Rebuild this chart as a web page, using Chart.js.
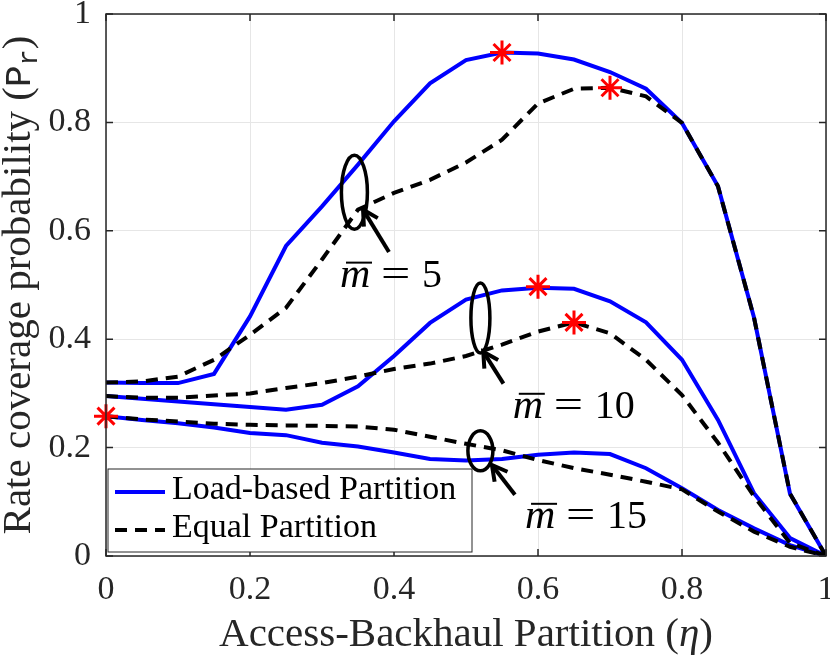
<!DOCTYPE html>
<html>
<head>
<meta charset="utf-8">
<script src="https://cdn.jsdelivr.net/npm/chart.js@4.4.0/dist/chart.umd.min.js"></script>
<style>
  body { margin: 0; background: #fff; }
  .box { width: 830px; height: 656px; }
</style>
</head>
<body>
<div class="box"><canvas id="rc" width="830" height="656"></canvas></div>
<script>
// partition values (x axis)
const eta = [0, 0.05, 0.1, 0.15, 0.2, 0.25, 0.3, 0.35, 0.4, 0.45, 0.5,
             0.55, 0.6, 0.65, 0.7, 0.75, 0.8, 0.85, 0.9, 0.95, 1];

// m = 5
const load5  = [0.320, 0.319, 0.319, 0.336, 0.442, 0.572, 0.645, 0.722, 0.802, 0.872, 0.915,
                0.929, 0.927, 0.916, 0.893, 0.862, 0.799, 0.682, 0.440, 0.115, 0];
const equal5 = [0.320, 0.322, 0.331, 0.362, 0.408, 0.458, 0.547, 0.639, 0.670, 0.694, 0.726,
                0.768, 0.835, 0.862, 0.864, 0.848, 0.799, 0.682, 0.440, 0.115, 0];
// m = 10
const load10  = [0.295, 0.290, 0.285, 0.280, 0.275, 0.270, 0.279, 0.313, 0.369, 0.430, 0.473,
                 0.490, 0.495, 0.493, 0.470, 0.431, 0.362, 0.251, 0.116, 0.033, 0];
const equal10 = [0.295, 0.292, 0.292, 0.296, 0.300, 0.310, 0.319, 0.331, 0.345, 0.355, 0.369,
                 0.390, 0.414, 0.431, 0.411, 0.362, 0.297, 0.209, 0.110, 0.024, 0];
// m = 15
const load15  = [0.258, 0.251, 0.245, 0.237, 0.227, 0.223, 0.209, 0.202, 0.191, 0.179, 0.176,
                 0.179, 0.187, 0.191, 0.188, 0.162, 0.125, 0.085, 0.051, 0.020, 0];
const equal15 = [0.258, 0.252, 0.248, 0.244, 0.242, 0.241, 0.240, 0.239, 0.233, 0.220, 0.207,
                 0.195, 0.177, 0.162, 0.150, 0.137, 0.123, 0.082, 0.045, 0.017, 0];

// optimum points (red asterisks)
const bestX = [0.55, 0.7, 0.6, 0.65, 0];
const bestY = [0.929, 0.864, 0.497, 0.431, 0.258];

const tickValues = [0, 0.2, 0.4, 0.6, 0.8, 1];
const tickLabels = ['0', '0.2', '0.4', '0.6', '0.8', '1'];

const legendLabels = ['Load-based Partition', 'Equal Partition'];

// ellipse + arrow + label for each group, in data units
const notes = [
  { m: '5',  cx: 0.345, cy: 0.671, rx: 13,  ry: 37, tail: [0.393, 0.561], tip: [0.357, 0.639], lx: 0.325, ly: 0.497 },
  { m: '10', cx: 0.520, cy: 0.439, rx: 9.5, ry: 35, tail: [0.552, 0.318], tip: [0.524, 0.377], lx: 0.565, ly: 0.255 },
  { m: '15', cx: 0.520, cy: 0.194, rx: 12.5, ry: 20, tail: [0.568, 0.113], tip: [0.536, 0.168], lx: 0.582, ly: 0.052 }
];

const SERIF = "'Liberation Serif'";
const MONO = "'Liberation Mono'";
const AXIS_COLOR = '#262626';
const BLUE = '#0000ff';

function pts(ys) {
  return eta.map((x, i) => ({ x: x, y: ys[i] }));
}

function solid(ys) {
  return { data: pts(ys), borderColor: BLUE, borderWidth: 4, pointRadius: 0, tension: 0 };
}

function dashed(ys) {
  return { data: pts(ys), borderColor: '#000', borderWidth: 4, borderDash: [12, 8],
           pointRadius: 0, tension: 0 };
}

/* =======================
   BOX, TICKS, NOTES, LEGEND
======================= */
const decorPlugin = {
  id: 'decor',
  afterDatasetsDraw(chart) {
    const ctx = chart.ctx;
    const a = chart.chartArea;
    const xs = chart.scales.x;
    const ys = chart.scales.y;

    ctx.save();

    // box
    ctx.strokeStyle = AXIS_COLOR;
    ctx.lineWidth = 1.5;
    ctx.strokeRect(a.left, a.top, a.right - a.left, a.bottom - a.top);

    // inward ticks on all four sides
    const tl = 7;
    ctx.beginPath();
    tickValues.forEach(v => {
      const px = xs.getPixelForValue(v);
      ctx.moveTo(px, a.bottom); ctx.lineTo(px, a.bottom - tl);
      ctx.moveTo(px, a.top);    ctx.lineTo(px, a.top + tl);
      const py = ys.getPixelForValue(v);
      ctx.moveTo(a.left, py);   ctx.lineTo(a.left + tl, py);
      ctx.moveTo(a.right, py);  ctx.lineTo(a.right - tl, py);
    });
    ctx.stroke();

    // ellipses, arrows, labels
    ctx.strokeStyle = '#000';
    ctx.fillStyle = '#000';
    notes.forEach(n => {
      const cx = xs.getPixelForValue(n.cx);
      const cy = ys.getPixelForValue(n.cy);
      ctx.lineWidth = 3.5;
      ctx.beginPath();
      ctx.ellipse(cx, cy, n.rx, n.ry, 0, 0, Math.PI * 2);
      ctx.stroke();

      const x0 = xs.getPixelForValue(n.tail[0]);
      const y0 = ys.getPixelForValue(n.tail[1]);
      const x1 = xs.getPixelForValue(n.tip[0]);
      const y1 = ys.getPixelForValue(n.tip[1]);
      const ang = Math.atan2(y1 - y0, x1 - x0);
      ctx.lineWidth = 4;
      ctx.lineCap = 'butt';
      ctx.beginPath();
      ctx.moveTo(x0, y0);
      ctx.lineTo(x1, y1);
      ctx.stroke();
      ctx.beginPath();
      ctx.moveTo(x1 - 17 * Math.cos(ang - 0.5), y1 - 17 * Math.sin(ang - 0.5));
      ctx.lineTo(x1, y1);
      ctx.lineTo(x1 - 17 * Math.cos(ang + 0.5), y1 - 17 * Math.sin(ang + 0.5));
      ctx.stroke();

      // m-bar = value
      const lx = xs.getPixelForValue(n.lx);
      const ly = ys.getPixelForValue(n.ly);
      ctx.textBaseline = 'alphabetic';
      ctx.textAlign = 'left';
      ctx.font = 'italic 42px ' + SERIF;
      ctx.fillText('m', lx, ly);
      ctx.lineWidth = 2;
      ctx.beginPath();
      ctx.moveTo(lx + 6, ly - 24);
      ctx.lineTo(lx + 32, ly - 24);
      ctx.stroke();
      ctx.font = '40px ' + SERIF;
      ctx.save();
      ctx.translate(lx + 41, ly);
      ctx.scale(1.3, 1);
      ctx.fillText('=', 0, 0);
      ctx.restore();
      ctx.fillText(n.m, lx + 82, ly);
    });

    // legend
    const bx = a.left + 2, by = a.bottom - 87, bw = 364, bh = 83;
    ctx.fillStyle = '#fff';
    ctx.fillRect(bx, by, bw, bh);
    ctx.strokeStyle = AXIS_COLOR;
    ctx.lineWidth = 1;
    ctx.strokeRect(bx, by, bw, bh);

    const rows = [
      { y: by + 23, dash: [], color: BLUE },
      { y: by + 61, dash: [12, 8], color: '#000' }
    ];
    rows.forEach((r, i) => {
      ctx.strokeStyle = r.color;
      ctx.lineWidth = 4;
      ctx.setLineDash(r.dash);
      ctx.beginPath();
      ctx.moveTo(bx + 7, r.y);
      ctx.lineTo(bx + 57, r.y);
      ctx.stroke();
      ctx.setLineDash([]);
      ctx.fillStyle = '#000';
      ctx.font = '34px ' + SERIF;
      ctx.textBaseline = 'alphabetic';
      ctx.fillText(legendLabels[i], bx + 64, r.y + 7);
    });

    ctx.restore();
  },
  afterDraw(chart) {
    const ctx = chart.ctx;
    const a = chart.chartArea;
    ctx.save();
    ctx.fillStyle = AXIS_COLOR;
    ctx.textBaseline = 'alphabetic';

    // x title: Access-Backhaul Partition (eta)
    const f = '41px ' + SERIF, fi = 'italic 41px ' + SERIF;
    const parts = [['Access-Backhaul Partition (', f], ['\u03b7', fi], [')', f]];
    let w = 0;
    parts.forEach(p => { ctx.font = p[1]; w += ctx.measureText(p[0]).width; });
    let x = (a.left + a.right) / 2 - w / 2;
    parts.forEach(p => {
      ctx.font = p[1];
      ctx.fillText(p[0], x, 646);
      x += ctx.measureText(p[0]).width;
    });

    // y title: Rate coverage probability (P_r)
    const yparts = [
      ['Rate coverage probability (', f, 0],
      ['P', '36px ' + MONO, 0],
      ['r', '27px ' + MONO, 7],
      [')', f, 0]
    ];
    ctx.translate(30, (a.top + a.bottom) / 2);
    ctx.rotate(-Math.PI / 2);
    w = 0;
    yparts.forEach(p => { ctx.font = p[1]; w += ctx.measureText(p[0]).width; });
    x = -w / 2;
    yparts.forEach(p => {
      ctx.font = p[1];
      ctx.fillText(p[0], x, p[2]);
      x += ctx.measureText(p[0]).width;
    });
    ctx.restore();
  }
};

/* =======================
   CHART
======================= */
function fixScale(size) {
  return s => {
    if (s.isHorizontal()) s.height = size; else s.width = size;
    s.paddingLeft = s.paddingRight = s.paddingTop = s.paddingBottom = 0;
  };
}

// keep the canvas on the software path so the system serif faces are used
const canvasEl = document.getElementById('rc');
canvasEl.getContext('2d', { willReadFrequently: true });

new Chart(canvasEl, {
  type: 'line',
  data: {
    datasets: [
      { data: bestX.map((x, i) => ({ x: x, y: bestY[i] })), showLine: false,
        pointStyle: 'star', pointRadius: 12, pointBorderWidth: 3,
        borderColor: '#ff0000', backgroundColor: '#ff0000', clip: false },
      dashed(equal5), dashed(equal10), dashed(equal15),
      solid(load5), solid(load10), solid(load15)
    ]
  },
  options: {
    responsive: false,
    animation: false,
    layout: { autoPadding: false, padding: { top: 14, right: 4, left: 0, bottom: 0 } },
    plugins: { legend: { display: false }, tooltip: { enabled: false } },
    scales: {
      x: {
        type: 'linear', min: 0, max: 1,
        afterFit: fixScale(100),
        afterBuildTicks: s => { s.ticks = tickValues.map(v => ({ value: v })); },
        grid: { color: '#e6e6e6', lineWidth: 1, drawTicks: false },
        border: { display: false },
        ticks: {
          padding: 14, maxRotation: 0,
          color: AXIS_COLOR, font: { family: SERIF, size: 34 },
          callback: v => tickLabels[tickValues.indexOf(v)]
        }
      },
      y: {
        type: 'linear', min: 0, max: 1,
        afterFit: fixScale(106),
        afterBuildTicks: s => { s.ticks = tickValues.map(v => ({ value: v })); },
        grid: { color: '#e6e6e6', lineWidth: 1, drawTicks: false },
        border: { display: false },
        ticks: {
          padding: 15,
          color: AXIS_COLOR, font: { family: SERIF, size: 34 },
          callback: v => tickLabels[tickValues.indexOf(v)]
        }
      }
    }
  },
  plugins: [decorPlugin]
});
</script>
</body>
</html>
